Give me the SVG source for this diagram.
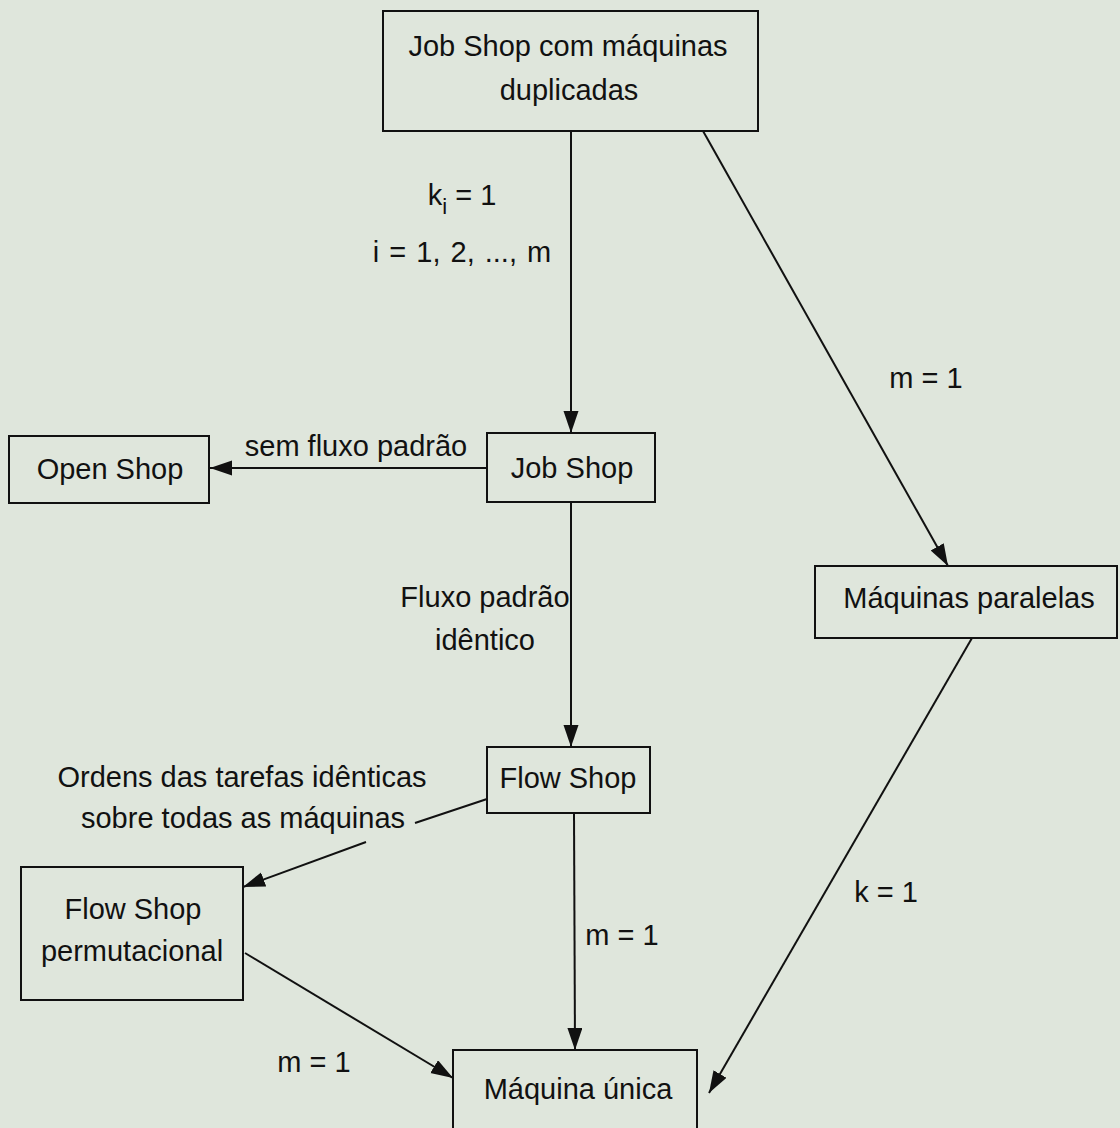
<svg xmlns="http://www.w3.org/2000/svg" width="1120" height="1128" viewBox="0 0 1120 1128">
<defs>
<style>
.bg{fill:#dfe6dc}
.box{fill:none;stroke:#111;stroke-width:2}
.t{font-family:"Liberation Sans",Arial,sans-serif;font-size:29px;fill:#111;text-anchor:middle}
.c{stroke:#111;stroke-width:2;fill:none}
</style>
<marker id="ah" markerUnits="userSpaceOnUse" markerWidth="24" markerHeight="16" refX="22" refY="7.5" orient="auto">
<path d="M0,0 L22,7.5 L0,15 z" fill="#111"/>
</marker>
</defs>
<rect class="bg" x="0" y="0" width="1120" height="1128"/>
<g id="connectors">
<line class="c" x1="571" y1="131" x2="571" y2="433" marker-end="url(#ah)"/>
<line class="c" x1="703" y1="131" x2="948" y2="566" marker-end="url(#ah)"/>
<line class="c" x1="487" y1="468" x2="210" y2="468" marker-end="url(#ah)"/>
<line class="c" x1="571" y1="502" x2="571" y2="747" marker-end="url(#ah)"/>
<line class="c" x1="487" y1="799" x2="415" y2="823"/>
<line class="c" x1="366" y1="842" x2="243" y2="887" marker-end="url(#ah)"/>
<line class="c" x1="574" y1="813" x2="575" y2="1050" marker-end="url(#ah)"/>
<line class="c" x1="245" y1="953" x2="453" y2="1078" marker-end="url(#ah)"/>
<line class="c" x1="972" y1="638" x2="709" y2="1093" marker-end="url(#ah)"/>
</g>
<g id="labels">
<text class="t" x="462" y="205">k<tspan font-size="22" dy="9">i</tspan><tspan dy="-9"> = 1</tspan></text>
<text class="t" x="462" y="262" word-spacing="2">i = 1, 2, ..., m</text>
<text class="t" x="356" y="456">sem fluxo padrão</text>
<text class="t" x="485" y="607">Fluxo padrão</text>
<text class="t" x="485" y="650">idêntico</text>
<text class="t" x="926" y="388">m = 1</text>
<text class="t" x="242" y="787">Ordens das tarefas idênticas</text>
<text class="t" x="243" y="828">sobre todas as máquinas</text>
<text class="t" x="886" y="902">k = 1</text>
<text class="t" x="622" y="945">m = 1</text>
<text class="t" x="314" y="1072">m = 1</text>
</g>
<g id="node-jobshop-dup">
<rect class="box" x="383" y="11" width="375" height="120"/>
<text class="t" x="568" y="56">Job Shop com máquinas</text>
<text class="t" x="569" y="100">duplicadas</text>
</g>
<g id="node-openshop">
<rect class="box" x="9" y="436" width="200" height="67"/>
<text class="t" x="110" y="479">Open Shop</text>
</g>
<g id="node-jobshop">
<rect class="box" x="487" y="433" width="168" height="69"/>
<text class="t" x="572" y="478">Job Shop</text>
</g>
<g id="node-paralelas">
<rect class="box" x="815" y="566" width="302" height="72"/>
<text class="t" x="969" y="608">Máquinas paralelas</text>
</g>
<g id="node-flowshop">
<rect class="box" x="487" y="747" width="163" height="66"/>
<text class="t" x="568" y="788">Flow Shop</text>
</g>
<g id="node-permutacional">
<rect class="box" x="21" y="867" width="222" height="133"/>
<text class="t" x="133" y="919">Flow Shop</text>
<text class="t" x="132" y="961">permutacional</text>
</g>
<g id="node-unica">
<rect class="box" x="453" y="1050" width="244" height="90"/>
<text class="t" x="578" y="1099">Máquina única</text>
</g>
</svg>
